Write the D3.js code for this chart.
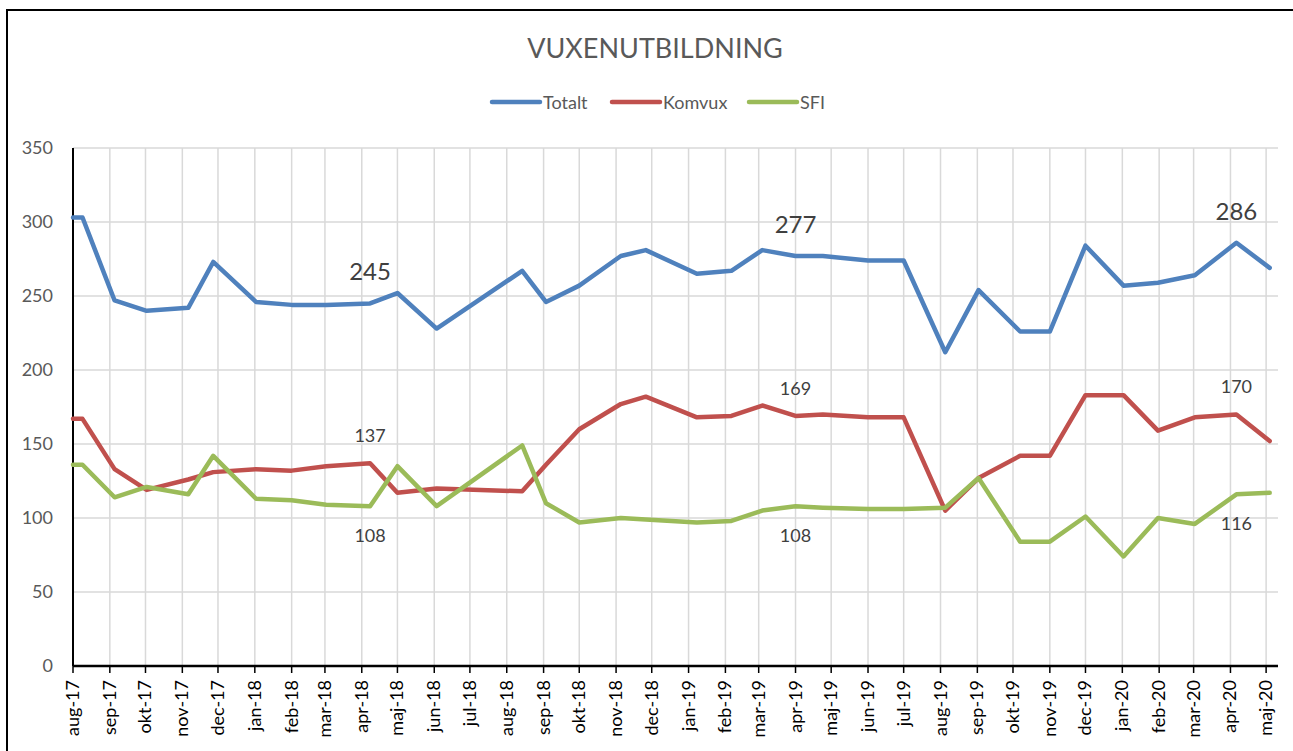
<!DOCTYPE html>
<html>
<head>
<meta charset="utf-8">
<script src="https://cdn.jsdelivr.net/npm/d3@7"></script>
<style>
  body { margin: 0; background: #fff; }
  svg { display: block; font-family: Lato, "Open Sans", sans-serif; }
</style>
</head>
<body>
<svg id="chart" width="1293" height="751"></svg>
<script>
// Measurement dates (one row per report)
const dates = [
  "2017-08-01", "2017-08-09", "2017-09-05", "2017-10-02", "2017-11-06", "2017-11-27",
  "2018-01-02", "2018-02-01", "2018-03-02", "2018-04-08", "2018-05-01", "2018-06-03",
  "2018-08-14", "2018-09-03", "2018-10-01", "2018-11-05", "2018-11-26", "2019-01-08",
  "2019-02-06", "2019-03-04", "2019-04-01", "2019-04-24", "2019-06-01", "2019-07-01",
  "2019-08-05", "2019-09-02", "2019-10-07", "2019-11-01", "2019-12-01", "2020-01-02",
  "2020-01-31", "2020-03-02", "2020-04-06", "2020-05-04"
];

const totalt = [303, 303, 247, 240, 242, 273, 246, 244, 244, 245, 252, 228, 267, 246, 257, 277, 281,
  265, 267, 281, 277, 277, 274, 274, 212, 254, 226, 226, 284, 257, 259, 264, 286, 269];
const komvux = [167, 167, 133, 119, 126, 131, 133, 132, 135, 137, 117, 120, 118, 136, 160, 177, 182,
  168, 169, 176, 169, 170, 168, 168, 105, 127, 142, 142, 183, 183, 159, 168, 170, 152];
const sfi = [136, 136, 114, 121, 116, 142, 113, 112, 109, 108, 135, 108, 149, 110, 97, 100, 99,
  97, 98, 105, 108, 107, 106, 106, 107, 127, 84, 84, 101, 74, 100, 96, 116, 117];

const seriesNames = ["Totalt", "Komvux", "SFI"];
const seriesColors = ["#4f81bd", "#c0504d", "#9bbb59"];

// Swedish month abbreviations for the x tick labels
const monthNames = ["jan", "feb", "mar", "apr", "maj", "jun", "jul", "aug", "sep", "okt", "nov", "dec"];
const yTicks = [0, 50, 100, 150, 200, 250, 300, 350];

// Points that get a value label
const labelIdx = [9, 20, 32];

const parse = d3.utcParse("%Y-%m-%d");
const when = dates.map(parse);

const conf = {
  left: 73, right: 1278,
  top: 148, bottom: 666,
};

const svg = d3.select("#chart");

// Outer chart frame (runs off the right and bottom edge)
svg.append("rect")
  .attr("x", 7).attr("y", 10)
  .attr("width", 1320).attr("height", 780)
  .attr("fill", "none")
  .attr("stroke", "#000")
  .attr("stroke-width", 2);

const x = d3.scaleUtc()
  .domain([parse("2017-08-01"), parse("2020-05-11")])
  .range([conf.left, conf.right]);

const y = d3.scaleLinear()
  .domain([0, 350])
  .range([conf.bottom, conf.top]);

const months = d3.utcMonth.range(parse("2017-08-01"), parse("2020-06-01"));
const fmtMonth = d => monthNames[d.getUTCMonth()] + "-" + d3.utcFormat("%y")(d);

// Gridlines
const grid = svg.append("g").attr("stroke", "#d9d9d9").attr("stroke-width", 1.5);
grid.selectAll(".hgrid")
  .data(yTicks.filter(v => v > 0))
  .enter().append("line")
  .attr("x1", conf.left).attr("x2", conf.right)
  .attr("y1", d => y(d)).attr("y2", d => y(d));
grid.selectAll(".vgrid")
  .data(months.slice(1))
  .enter().append("line")
  .attr("x1", d => x(d)).attr("x2", d => x(d))
  .attr("y1", conf.top).attr("y2", conf.bottom);

// Y axis labels
svg.append("g")
  .selectAll("text")
  .data(yTicks)
  .enter().append("text")
  .attr("x", 53)
  .attr("y", d => y(d))
  .attr("dy", "0.36em")
  .attr("text-anchor", "end")
  .attr("font-size", 18)
  .attr("fill", "#595959")
  .text(d => d);

// X axis with tick marks pointing down
const xAxis = svg.append("g");
xAxis.selectAll("line")
  .data(months)
  .enter().append("line")
  .attr("x1", d => x(d)).attr("x2", d => x(d))
  .attr("y1", conf.bottom).attr("y2", conf.bottom + 7)
  .attr("stroke", "#000").attr("stroke-width", 1.5);
xAxis.selectAll("text")
  .data(months)
  .enter().append("text")
  .attr("transform", d => `translate(${x(d) + 6},${conf.bottom + 14}) rotate(-90)`)
  .attr("text-anchor", "end")
  .attr("font-size", 18)
  .attr("fill", "#000")
  .text(fmtMonth);

// Axis lines
svg.append("line")
  .attr("x1", conf.left).attr("x2", conf.left)
  .attr("y1", conf.top).attr("y2", conf.bottom)
  .attr("stroke", "#000").attr("stroke-width", 2);
svg.append("line")
  .attr("x1", conf.left).attr("x2", conf.right)
  .attr("y1", conf.bottom).attr("y2", conf.bottom)
  .attr("stroke", "#000").attr("stroke-width", 2.5);

// Series lines
const allSeries = [totalt, komvux, sfi];
const line = d3.line()
  .x((d, i) => x(when[i]))
  .y(d => y(d));

svg.append("g")
  .selectAll("path")
  .data(allSeries)
  .enter().append("path")
  .attr("d", line)
  .attr("fill", "none")
  .attr("stroke", (d, i) => seriesColors[i])
  .attr("stroke-width", 4.5)
  .attr("stroke-linejoin", "round")
  .attr("stroke-linecap", "round");

// Value labels: Totalt/Komvux above the point, SFI below
const labelStyle = [
  {size: 24, dy: -23},
  {size: 18, dy: -21},
  {size: 18, dy: 36},
];
allSeries.forEach((vals, s) => {
  svg.append("g")
    .selectAll("text")
    .data(labelIdx)
    .enter().append("text")
    .attr("x", i => x(when[i]))
    .attr("y", i => y(vals[i]) + labelStyle[s].dy)
    .attr("text-anchor", "middle")
    .attr("font-size", labelStyle[s].size)
    .attr("fill", "#404040")
    .text(i => vals[i]);
});

// Title
svg.append("text")
  .attr("x", 655).attr("y", 58)
  .attr("text-anchor", "middle")
  .attr("font-size", 27)
  .attr("fill", "#595959")
  .text("VUXENUTBILDNING");

// Legend
const legendX = [492, 612, 749];
const legend = svg.append("g")
  .selectAll("g")
  .data(seriesNames)
  .enter().append("g")
  .attr("transform", (d, i) => `translate(${legendX[i]},102)`);
legend.append("line")
  .attr("x1", 0).attr("x2", 48)
  .attr("stroke", (d, i) => seriesColors[i])
  .attr("stroke-width", 4.5)
  .attr("stroke-linecap", "round");
legend.append("text")
  .attr("x", 51).attr("y", 7)
  .attr("font-size", 18)
  .attr("fill", "#595959")
  .text(d => d);
</script>
</body>
</html>
